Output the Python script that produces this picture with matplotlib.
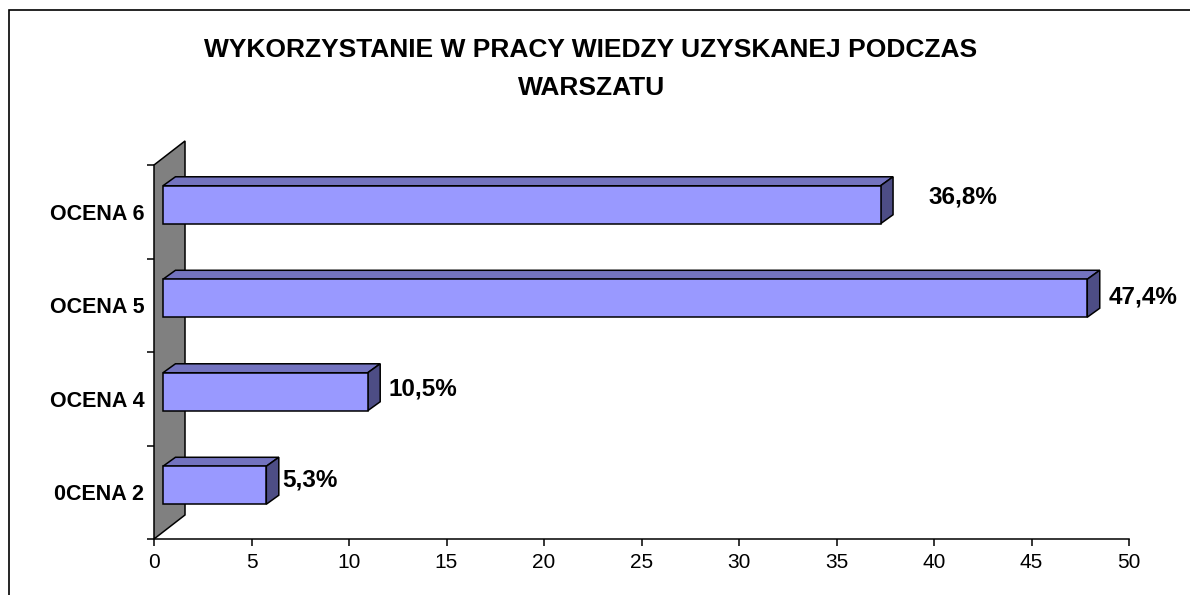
import matplotlib
matplotlib.use("Agg")
import matplotlib.pyplot as plt
from matplotlib.patches import Polygon, Rectangle

# ---- data ----
categories = ["0CENA 2", "OCENA 4", "OCENA 5", "OCENA 6"]
values = [5.3, 10.5, 47.4, 36.8]
value_labels = ["5,3%", "10,5%", "47,4%", "36,8%"]
x_ticks = [0, 5, 10, 15, 20, 25, 30, 35, 40, 45, 50]
title_line1 = "WYKORZYSTANIE W PRACY WIEDZY UZYSKANEJ PODCZAS"
title_line2 = "WARSZATU"

# ---- style / geometry ----
front_c = "#9999FF"
top_c = "#7373BF"
side_c = "#4D4D85"
wall_c = "#808080"
lw = 1.1
fs_title = 19
fs_cat = 15.5
fs_tick = 15
fs_val = 17.5

W, H = 1190, 595
fig = plt.figure(figsize=(W / 100, H / 100), dpi=100)
ax = fig.add_axes([154 / W, (H - 539) / H, (1129 - 154) / W, (539 - 165) / H])
ax.set_xlim(0, 50)
ax.set_ylim(-0.5, len(categories) - 0.5)

# depth parameters in data units
wall_dx, wall_dy = 1.59, 0.257
bar_x0 = 0.46
bar_c = 0.075
bar_h = 0.406
bdx, bdy = 0.64, 0.096

n = len(categories)
# wall
wall = Polygon([(0, -0.5), (wall_dx, -0.5 + wall_dy), (wall_dx, n - 0.5 + wall_dy), (0, n - 0.5)],
               closed=True, facecolor=wall_c, edgecolor="black", lw=lw, clip_on=False, zorder=1)
ax.add_patch(wall)

# bars
label_dx = [0.2, 0.45, 0.45, 1.8]
label_dy = [0.13, 0.10, 0.09, 0.16]
for i, v in enumerate(values):
    yb = i + bar_c - bar_h / 2
    yt = i + bar_c + bar_h / 2
    x0 = bar_x0
    x1 = bar_x0 + v
    top = Polygon([(x0, yt), (x1, yt), (x1 + bdx, yt + bdy), (x0 + bdx, yt + bdy)], closed=True,
                  facecolor=top_c, edgecolor="black", lw=lw, clip_on=False, zorder=3, joinstyle="miter")
    side = Polygon([(x1, yb), (x1 + bdx, yb + bdy), (x1 + bdx, yt + bdy), (x1, yt)], closed=True,
                   facecolor=side_c, edgecolor="black", lw=lw, clip_on=False, zorder=3, joinstyle="miter")
    front = Rectangle((x0, yb), v, bar_h, facecolor=front_c, edgecolor="black", lw=lw,
                      clip_on=False, zorder=4, joinstyle="miter")
    ax.add_patch(top)
    ax.add_patch(side)
    ax.add_patch(front)
    ax.text(x1 + bdx + label_dx[i], i + label_dy[i], value_labels[i], fontsize=fs_val,
            fontweight="bold", family="Liberation Sans", va="center", ha="left", zorder=5)

# axes styling
for s in ["top", "right", "left"]:
    ax.spines[s].set_visible(False)
ax.spines["bottom"].set_linewidth(lw)
ax.set_xticks(x_ticks)
ax.set_xticklabels([str(t) for t in x_ticks], family="Liberation Sans", fontsize=fs_tick)
ax.tick_params(axis="x", length=5, width=lw, pad=5)

ax.set_yticks([i - 0.5 for i in range(n + 1)])
ax.set_yticklabels([])
ax.tick_params(axis="y", which="major", length=5, width=lw)
ax.set_yticks(list(range(n)), minor=True)
ax.set_yticklabels(categories, minor=True, family="Liberation Sans", fontsize=fs_cat, fontweight="bold")
ax.tick_params(axis="y", which="minor", length=0, pad=7)
ax.set_facecolor("none")

# title
fig.text(591 / W, 1 - 57 / H, title_line1, ha="center", va="baseline", fontsize=fs_title,
         fontweight="bold", family="Liberation Sans")
fig.text(592 / W, 1 - 95 / H, title_line2, ha="center", va="baseline", fontsize=fs_title,
         fontweight="bold", family="Liberation Sans")

# chart border
fig.patches.append(Rectangle((9 / W, -0.1), 1.5, 1.1 - 10 / H, transform=fig.transFigure,
                             fill=False, edgecolor="black", lw=1.2))

fig.savefig("out.png", dpi=100)
